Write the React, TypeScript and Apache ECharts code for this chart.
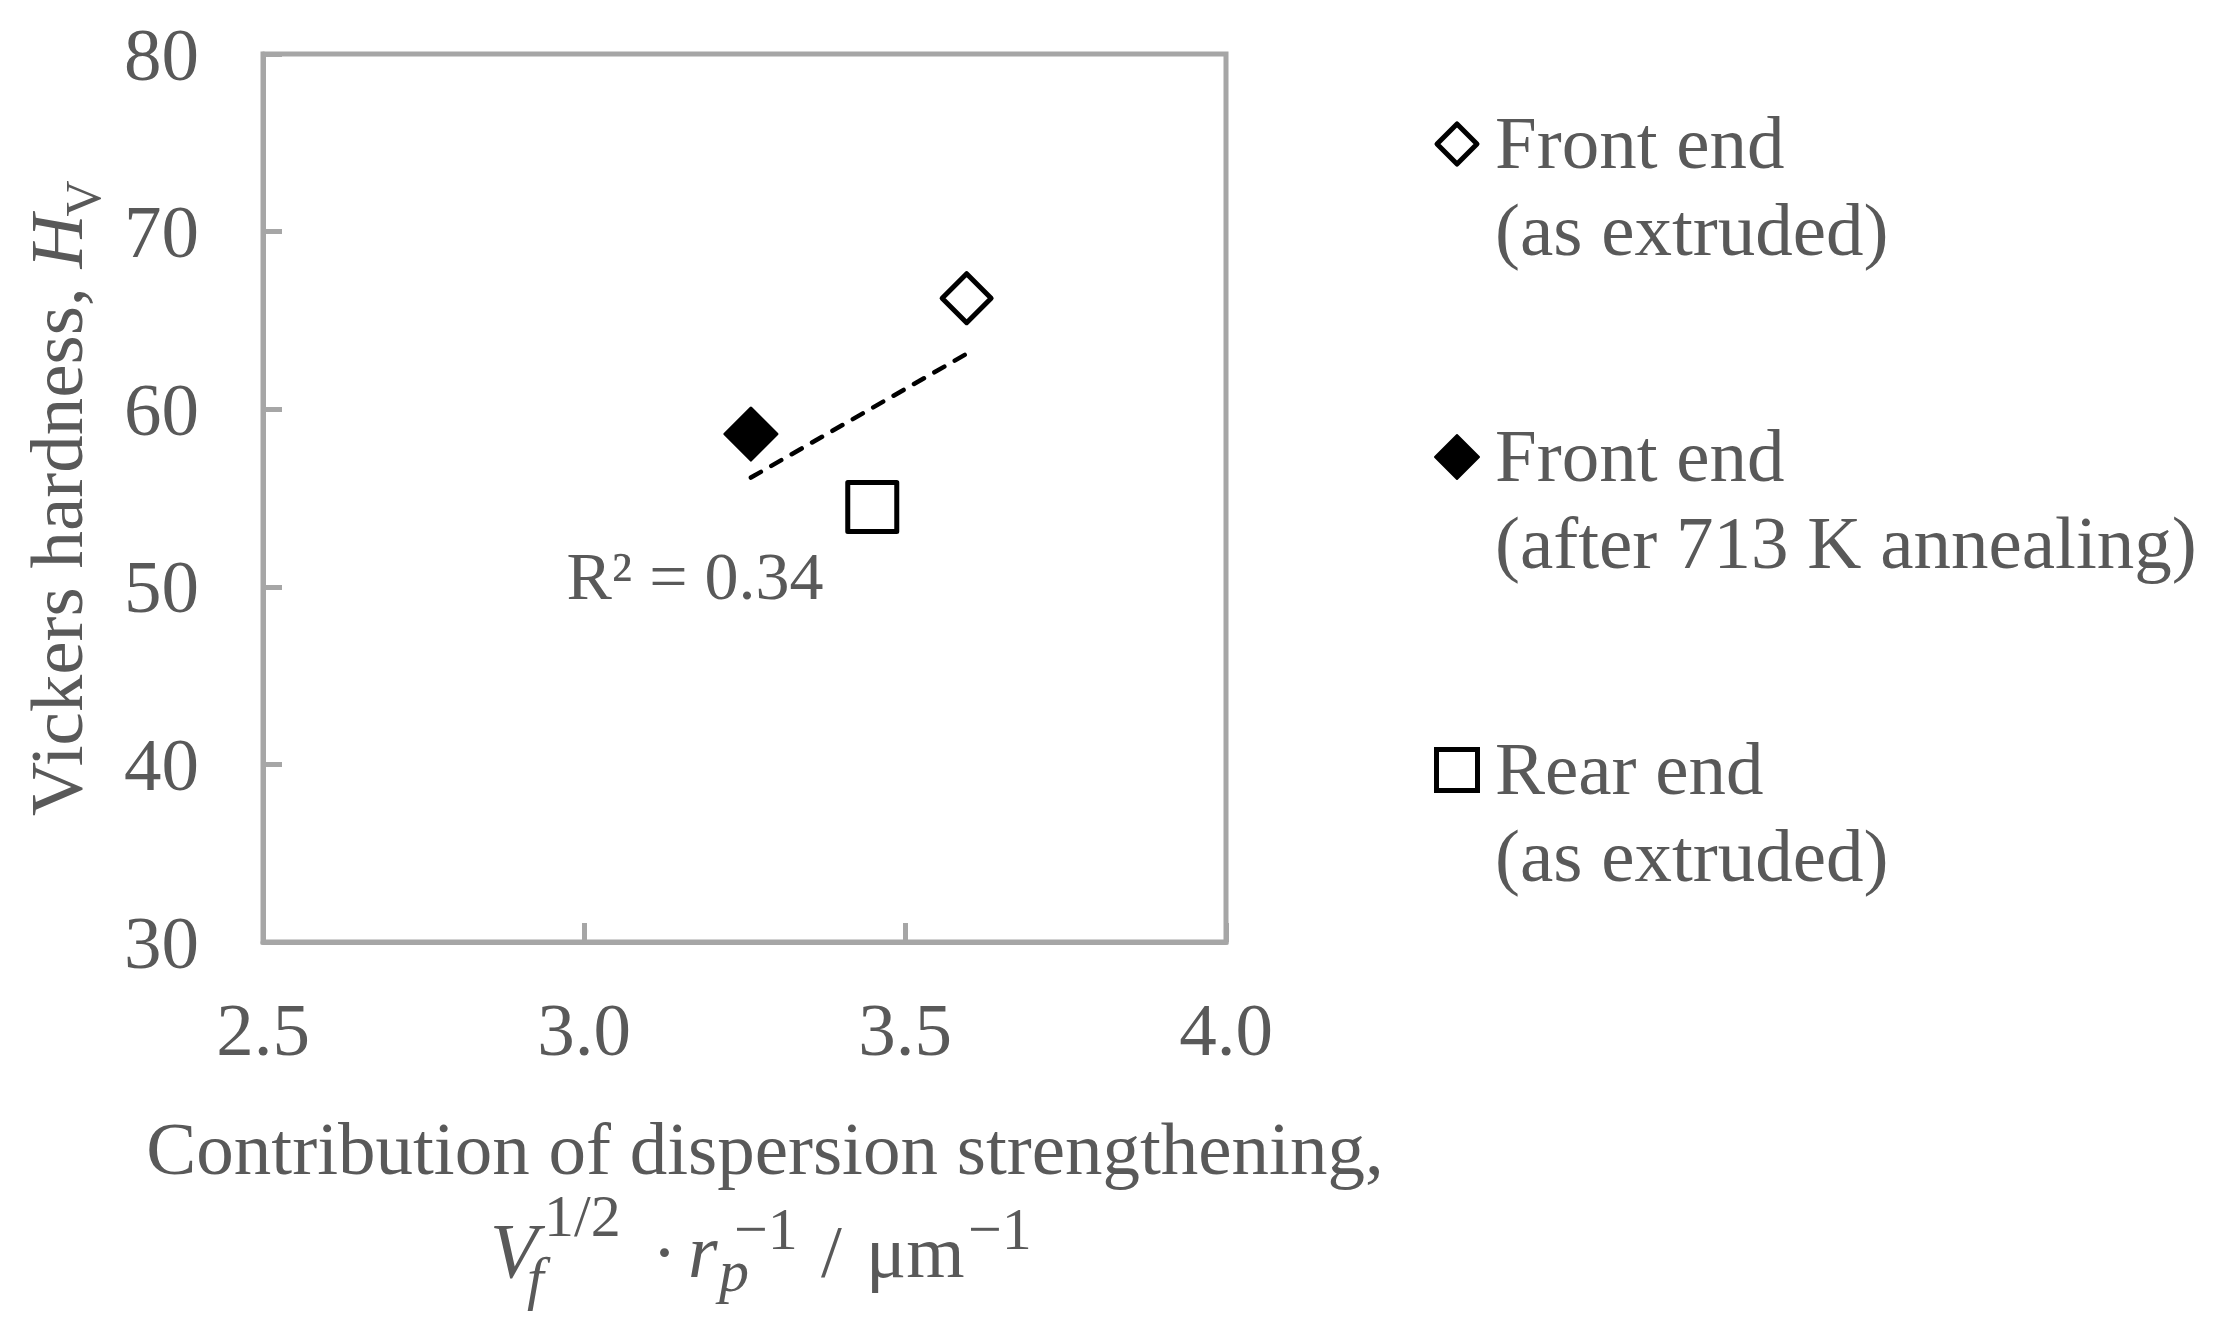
import React, { useEffect, useRef } from "react";
import * as echarts from "echarts";

// ---- data ----
const seriesNames = [
  "Front end\n(as extruded)",
  "Front end\n(after 713 K annealing)",
  "Rear end\n(as extruded)",
];
const frontExtrudedX = [3.596];
const frontExtrudedY = [66.25];
const frontAnnealedX = [3.26];
const frontAnnealedY = [58.6];
const rearExtrudedX = [3.449];
const rearExtrudedY = [54.5];
const trendX = [3.26, 3.596];
const trendY = [56.15, 63.12];
const r2Label = "R\u00b2 = 0.34";
const xTicks = [2.5, 3.0, 3.5, 4.0];
const yTicks = [30, 40, 50, 60, 70, 80];

const FONT = "'Liberation Serif', 'Times New Roman', serif";
const TXT = "#595959";
const AXIS = "#A6A6A6";

const zip = (xs: number[], ys: number[]) => xs.map((x, i) => [x, ys[i]]);

function measure(text: string, fs: number, italic = false) {
  const c = document.createElement("canvas").getContext("2d")!;
  c.font = `${italic ? "italic " : ""}${fs}px ${FONT}`;
  return c.measureText(text).width;
}

// text placed by left x and baseline y
function t(x: number, base: number, text: string, fs: number, italic = false, align = "left") {
  return {
    type: "text",
    x,
    y: base - 0.3375 * fs,
    silent: true,
    style: {
      text,
      fontSize: fs,
      fontFamily: FONT,
      fontStyle: italic ? "italic" : "normal",
      fill: TXT,
      align,
      textAlign: align,
      verticalAlign: "middle",
      textVerticalAlign: "middle",
    },
  };
}

export default function App() {
  const ref = useRef<HTMLDivElement>(null);
  useEffect(() => {
    const chart = echarts.init(ref.current!, null, { renderer: "svg" });

    // y-axis title (rotated group)
    const fsMain = 75;
    const w1 = measure("Vickers hardness, ", fsMain);
    const wH = measure("H", fsMain, true);
    const yTitle = {
      type: "group",
      x: 82,
      y: 816,
      rotation: Math.PI / 2,
      children: [
        t(0, 0, "Vickers hardness, ", fsMain),
        t(w1, 0, "H", fsMain, true),
        t(w1 + wH - 2, 18, "V", 50),
      ],
    };

    const fsS = 60;
    const xTitle = [
      t(765, 1174, "Contribution of dispersion strengthening,", 75, false, "center"),
      t(490, 1277, "V", 78, true),
      t(527, 1298, "f", fsS, true),
      t(544, 1236, "1/2", fsS),
      t(652, 1277, "\u00b7", 75),
      t(688, 1277, "r", 76, true),
      t(719, 1291, "p", fsS, true),
      t(734, 1249, "\u22121", fsS),
      t(821, 1277, "/", 75),
      t(866, 1277, "\u03bcm", 75),
      t(968, 1249, "\u22121", fsS),
    ];

    const legendBase = [168, 481, 794];
    const legendIcons = [
      { type: "polygon", shape: { points: [[0, -20], [20, 0], [0, 20], [-20, 0]] }, style: { fill: "#fff", stroke: "#000", lineWidth: 5, lineJoin: "round" } },
      { type: "polygon", shape: { points: [[0, -22], [22, 0], [0, 22], [-22, 0]] }, style: { fill: "#000", stroke: "#000", lineWidth: 2, lineJoin: "round" } },
      { type: "rect", shape: { x: -20.5, y: -20.5, width: 41, height: 41 }, style: { fill: "#fff", stroke: "#000", lineWidth: 5 } },
    ];
    const legend: any[] = [];
    seriesNames.forEach((name, i) => {
      const lines = name.split("\n");
      legend.push({ ...legendIcons[i], x: 1457, y: legendBase[i] - 24 });
      lines.forEach((ln, j) => legend.push(t(1495, legendBase[i] + j * 87, ln, 75)));
    });

    chart.setOption({
      animation: false,
      backgroundColor: "#fff",
      grid: {
        show: true,
        left: 263,
        top: 54,
        width: 963,
        height: 888,
        borderColor: AXIS,
        borderWidth: 5,
        containLabel: false,
      },
      xAxis: {
        type: "value",
        min: xTicks[0],
        max: xTicks[xTicks.length - 1],
        interval: 0.5,
        axisLine: { show: true, lineStyle: { color: AXIS, width: 5 } },
        axisTick: { show: true, inside: true, length: 19, lineStyle: { color: AXIS, width: 5 } },
        splitLine: { show: false },
        axisLabel: {
          margin: 50,
          fontSize: 75,
          fontFamily: FONT,
          color: TXT,
          formatter: (v: number) => v.toFixed(1),
        },
      },
      yAxis: {
        type: "value",
        min: yTicks[0],
        max: yTicks[yTicks.length - 1],
        interval: 10,
        axisLine: { show: true, lineStyle: { color: AXIS, width: 5 } },
        axisTick: { show: true, inside: true, length: 19, lineStyle: { color: AXIS, width: 5 } },
        splitLine: { show: false },
        axisLabel: { margin: 64, fontSize: 75, fontFamily: FONT, color: TXT },
      },
      series: [
        {
          type: "line",
          data: zip(trendX, trendY),
          symbol: "none",
          silent: true,
          lineStyle: { color: "#000", width: 4.5, type: [11.5, 12], cap: "round" },
          z: 1,
        },
        {
          type: "scatter",
          name: seriesNames[0],
          data: zip(frontExtrudedX, frontExtrudedY),
          symbol: "diamond",
          symbolSize: 49,
          itemStyle: { color: "#fff", borderColor: "#000", borderWidth: 5, borderJoin: "round", opacity: 1 },
          z: 3,
        },
        {
          type: "scatter",
          name: seriesNames[1],
          data: zip(frontAnnealedX, frontAnnealedY),
          symbol: "diamond",
          symbolSize: 52,
          itemStyle: { color: "#000", borderColor: "#000", borderWidth: 3, borderJoin: "round", opacity: 1 },
          z: 3,
        },
        {
          type: "scatter",
          name: seriesNames[2],
          data: zip(rearExtrudedX, rearExtrudedY),
          symbol: "rect",
          symbolSize: 49,
          itemStyle: { color: "#fff", borderColor: "#000", borderWidth: 5, borderJoin: "round", opacity: 1 },
          z: 3,
        },
      ],
      graphic: [
        yTitle,
        ...xTitle,
        ...legend,
        t(695, 599, r2Label, 68, false, "center"),
      ],
    });
    return () => chart.dispose();
  }, []);
  return (
    <div
      ref={ref}
      style={{ position: "fixed", left: 0, top: 0, width: 2214, height: 1335, background: "#fff" }}
    />
  );
}
